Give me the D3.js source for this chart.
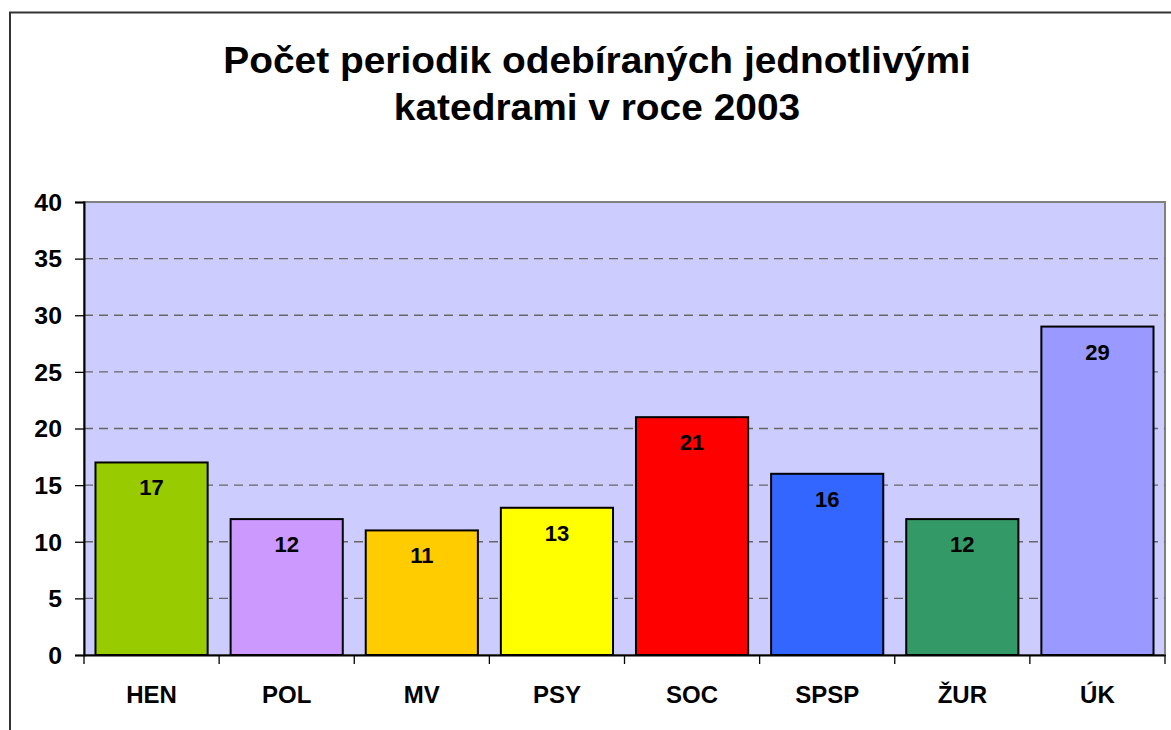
<!DOCTYPE html>
<html><head><meta charset="utf-8">
<script src="https://cdn.jsdelivr.net/npm/d3@7"></script>
<style>body{margin:0;background:#fff}svg{display:block}text{font-family:Arial,"Liberation Sans",sans-serif;font-weight:bold}</style>
</head><body>
<svg id="c" width="1171" height="730"></svg>
<script>
const categories = ["HEN","POL","MV","PSY","SOC","SPSP","ŽUR","ÚK"];
const values = [17,12,11,13,21,16,12,29];
const colors = ["#99CC00","#CC99FF","#FFCC00","#FFFF00","#FF0000","#3366FF","#339966","#9999FF"];
const yTicks = [0,5,10,15,20,25,30,35,40];
const titleLines = ["Počet periodik odebíraných jednotlivými","katedrami v roce 2003"];

const svg = d3.select("#c");
const L = 84, R = 1165, T = 202, B = 655;
const FF = "Arial,'Liberation Sans',sans-serif";

function stretch(sel, k){
  sel.each(function(){
    const len = this.getComputedTextLength();
    d3.select(this).attr("textLength", len*k).attr("lengthAdjust","spacingAndGlyphs");
  });
}

// outer chart border
svg.append("rect").attr("x",10).attr("y",12.5).attr("width",1176).attr("height",730)
  .attr("fill","#fff").attr("stroke","#333").attr("stroke-width",2);

const x = d3.scaleBand().domain(categories).range([L,R]).paddingInner(0.17).paddingOuter(0.085);
const y = d3.scaleLinear().domain([0,40]).range([B,T]);

svg.append("rect").attr("x",L).attr("y",T).attr("width",R-L).attr("height",B-T)
  .attr("fill","#CCCCFF").attr("stroke","#808080").attr("stroke-width",2);

// gridlines
svg.append("g").selectAll("line").data(yTicks.filter(d=>d>0 && d<40)).join("line")
  .attr("x1",L).attr("x2",R).attr("y1",d=>y(d)).attr("y2",d=>y(d))
  .attr("stroke","#666").attr("stroke-width",1.3).attr("stroke-dasharray","9,6");

// bars
svg.append("g").selectAll("rect").data(values).join("rect")
  .attr("x",(d,i)=>x(categories[i])).attr("y",d=>y(d))
  .attr("width",x.bandwidth()).attr("height",d=>B-y(d))
  .attr("fill",(d,i)=>colors[i]).attr("stroke","#000").attr("stroke-width",2);

// data labels
const dl = svg.append("g").selectAll("text").data(values).join("text")
  .attr("x",(d,i)=>x(categories[i])+x.bandwidth()/2).attr("y",d=>y(d)+33)
  .attr("text-anchor","middle").attr("font-size",22).text(d=>d);

// y axis
const ya = svg.append("g").attr("transform",`translate(${L},0)`)
  .call(d3.axisLeft(y).tickValues(yTicks).tickSize(9).tickPadding(13));
ya.select(".domain").attr("stroke","#000").attr("stroke-width",2);
ya.selectAll(".tick line").attr("stroke","#000").attr("stroke-width",1.3);
ya.selectAll("text").attr("font-size",23).attr("fill","#000").attr("font-family",FF).attr("dy","0.36em");
stretch(ya.selectAll("text"),1.08);

// x axis
const xa = svg.append("g").attr("transform",`translate(0,${B})`)
  .call(d3.axisBottom(x).tickSize(0).tickPadding(31));
xa.select(".domain").attr("stroke","#000").attr("stroke-width",2);
xa.selectAll("text").attr("font-size",24).attr("fill","#000").attr("font-family",FF);
// category separator ticks
svg.append("g").selectAll("line").data(d3.range(categories.length+1)).join("line")
  .attr("x1",i=>L+i*(R-L)/categories.length).attr("x2",i=>L+i*(R-L)/categories.length)
  .attr("y1",B).attr("y2",B+9).attr("stroke","#000").attr("stroke-width",1.3);

// title
const tt = svg.append("g").selectAll("text").data(titleLines).join("text")
  .attr("x",597).attr("y",(d,i)=>73+i*47).attr("text-anchor","middle")
  .attr("font-size",36).text(d=>d);
stretch(tt,1.08);
</script>
</body></html>
